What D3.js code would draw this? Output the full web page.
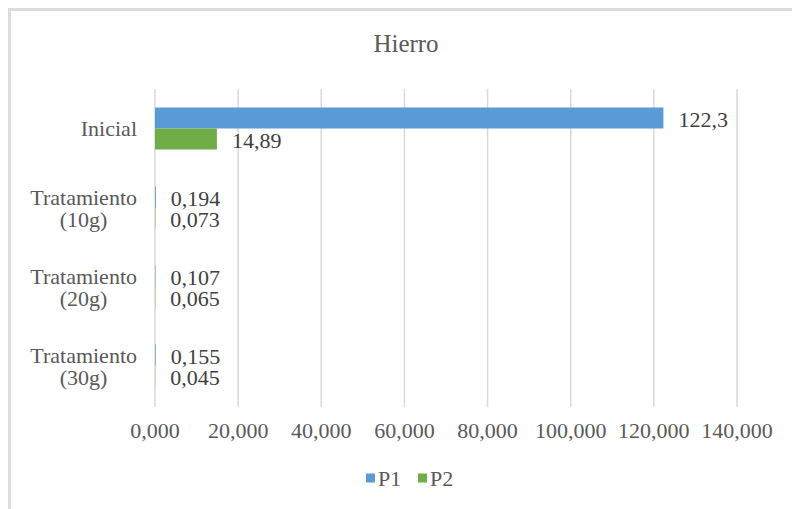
<!DOCTYPE html>
<meta charset="utf-8">
<style>

body {
  margin: 0;
  background: white;
}

text {
  font-family: "Liberation Serif", "Times New Roman", serif;
  fill: #595959;
}

.grid line {
  stroke: #d9d9d9;
  stroke-width: 1.5px;
}

.values text {
  fill: #404040;
}

</style>
<svg></svg>
<script src="https://cdn.jsdelivr.net/npm/d3@7"></script>
<script>

var width = 792;
var height = 509;

var categories = ['Inicial', 'Tratamiento (10g)', 'Tratamiento (20g)', 'Tratamiento (30g)'];
var seriesNames = ['P1', 'P2'];
var p1 = [122.3, 0.194, 0.107, 0.155];
var p2 = [14.89, 0.073, 0.065, 0.045];
var ticks = [0, 20, 40, 60, 80, 100, 120, 140];
var colors = ['#5b9bd5', '#70ad47'];

var locale = d3.formatLocale({decimal: ',', thousands: '.', grouping: [3], currency: ['', '']});
var tickFormat = locale.format('.3f');
var valueFormat = locale.format('~g');

var margin = {top: 89, left: 155, right: 55, bottom: 104};

var svg = d3.select('svg')
  .attr('width', width)
  .attr('height', height);

// chart frame (only top and left edges show)
svg.append('path')
  .attr('d', 'M9.5,' + height + 'V9.5H' + width)
  .attr('fill', 'none')
  .attr('stroke', '#dcdcdc')
  .attr('stroke-width', 3);

var x = d3.scaleLinear()
  .domain([0, 140])
  .range([margin.left, width - margin.right]);

var y = d3.scaleBand()
  .domain(categories)
  .range([margin.top, height - margin.bottom]);

var sub = d3.scaleBand()
  .domain(seriesNames)
  .range([0, y.bandwidth()])
  .paddingOuter(0.88)
  .paddingInner(0);

svg.append('text')
  .attr('x', 406)
  .attr('y', 43)
  .attr('dy', '0.35em')
  .attr('text-anchor', 'middle')
  .style('font-size', '25px')
  .text('Hierro');

svg.append('g')
  .attr('class', 'grid')
  .selectAll('line')
  .data(ticks)
  .enter().append('line')
  .attr('x1', function (d) { return x(d); })
  .attr('x2', function (d) { return x(d); })
  .attr('y1', margin.top)
  .attr('y2', height - margin.bottom + 2);

svg.append('g')
  .selectAll('text')
  .data(ticks)
  .enter().append('text')
  .attr('x', function (d) { return x(d); })
  .attr('y', 430)
  .attr('dy', '0.35em')
  .attr('text-anchor', 'middle')
  .style('font-size', '22px')
  .text(function (d) { return tickFormat(d); });

// category labels: right-aligned block, lines centred inside it
var labelRight = 137;

svg.append('g')
  .selectAll('text')
  .data(categories)
  .enter().append('text')
  .style('font-size', '22px')
  .each(function (d) {
    var sel = d3.select(this);
    var cy = y(d) + y.bandwidth() / 2;
    if (d === 'Inicial') {
      sel.attr('x', labelRight).attr('y', cy).attr('dy', '0.35em')
        .attr('text-anchor', 'end').text(d);
      return;
    }
    var parts = d.split(' ');
    sel.attr('text-anchor', 'middle');
    var tspans = parts.map(function (p, i) {
      return sel.append('tspan')
        .attr('y', cy + (i === 0 ? -10.5 : 11.5))
        .attr('dy', '0.35em')
        .text(p);
    });
    var w = d3.max(tspans, function (t) { return t.node().getComputedTextLength(); });
    tspans.forEach(function (t) { t.attr('x', labelRight - w / 2); });
  });

var series = [
  {name: 'P1', values: p1},
  {name: 'P2', values: p2}
];

series.forEach(function (s, si) {
  svg.append('g')
    .selectAll('rect')
    .data(categories)
    .enter().append('rect')
    .attr('x', x(0))
    .attr('y', function (d) { return y(d) + sub(s.name); })
    .attr('width', function (d, i) { return x(s.values[i]) - x(0); })
    .attr('height', sub.bandwidth())
    .attr('fill', colors[si]);

  svg.append('g')
    .attr('class', 'values')
    .selectAll('text')
    .data(categories)
    .enter().append('text')
    .attr('x', function (d, i) { return x(s.values[i]) + 15; })
    .attr('y', function (d) { return y(d) + sub(s.name) + sub.bandwidth() / 2 + 1; })
    .attr('dy', '0.35em')
    .style('font-size', '22px')
    .text(function (d, i) { return valueFormat(s.values[i]); });
});

// legend
var legend = svg.append('g')
  .selectAll('g')
  .data(seriesNames)
  .enter().append('g')
  .attr('transform', function (d, i) { return 'translate(' + (366 + i * 52) + ',478)'; });

legend.append('rect')
  .attr('x', 0)
  .attr('y', -4.5)
  .attr('width', 9)
  .attr('height', 9)
  .attr('fill', function (d, i) { return colors[i]; });

legend.append('text')
  .attr('x', 12)
  .attr('dy', '0.35em')
  .style('font-size', '22px')
  .text(function (d) { return d; });

</script>
